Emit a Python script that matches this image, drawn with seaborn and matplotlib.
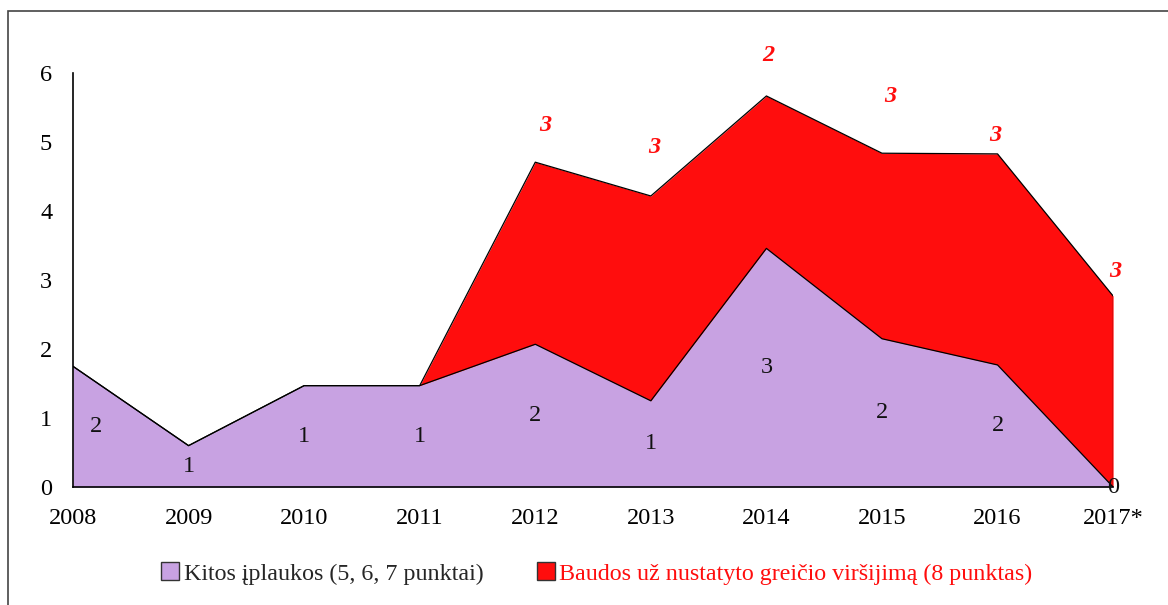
import matplotlib
matplotlib.use("Agg")
import matplotlib.pyplot as plt
from matplotlib.patches import Patch, Rectangle
import seaborn as sns
import pandas as pd

years = ["2008", "2009", "2010", "2011", "2012", "2013", "2014", "2015", "2016", "2017*"]
kitos = [1.75, 0.60, 1.47, 1.47, 2.07, 1.25, 3.46, 2.15, 1.77, 0.0]
baudos = [0.0, 0.0, 0.0, 0.0, 2.64, 2.97, 2.21, 2.69, 3.06, 2.77]
kitos_labels = ["2", "1", "1", "1", "2", "1", "3", "2", "2", "0"]
baudos_labels = ["3", "3", "2", "3", "3", "3"]
baudos_label_years = [4, 5, 6, 7, 8, 9]
# manual nudges of the red labels above the top edge (data units)
baudos_label_dy = [0.53, 0.70, 0.58, 0.82, 0.27, 0.36]
baudos_label_dx = [0.09, 0.03, 0.02, 0.07, -0.02, 0.02]

purple = "#C8A2E2"
red = "#FF0D0D"
fs = 17.5

sns.set_style("white")
plt.rcParams["font.family"] = ["Liberation Serif", "DejaVu Serif"]

df = pd.DataFrame({"x": range(len(years)), "kitos": kitos, "baudos": baudos})
df["top"] = df["kitos"] + df["baudos"]

fig = plt.figure(figsize=(11.68, 6.05), dpi=100)
ax = fig.add_axes([0.0625, 0.195, 0.8905, 0.684])

ax.fill_between(df["x"], 0, df["kitos"], color=purple, lw=0)
ax.fill_between(df["x"], df["kitos"], df["top"], color=red, lw=0)
sns.lineplot(data=df, x="x", y="top", ax=ax, color="black", lw=0.9)
sns.lineplot(data=df, x="x", y="kitos", ax=ax, color="black", lw=0.9)
ax.plot([df["x"].iloc[-1]] * 2, [0, df["top"].iloc[-1]], color="black", lw=0.9)

# purple labels in the middle of the purple area
for i, (v, lab) in enumerate(zip(kitos, kitos_labels)):
    xx = i + (0.2 if i == 0 else 0)
    ax.text(xx, v / 2, lab, ha="center", va="center", fontsize=fs, color="#111111")

for j, i in enumerate(baudos_label_years):
    ax.text(i + baudos_label_dx[j], df["top"].iloc[i] + baudos_label_dy[j], baudos_labels[j],
            ha="center", va="center", fontsize=fs, color=red,
            fontweight="bold", fontstyle="italic")

ax.set_xlim(0, len(years) - 1)
ax.set_ylim(0, 6)
ax.set_xticks(range(len(years)))
ax.set_xticklabels(years)
ax.set_yticks(range(0, 7))
ax.set_xlabel("")
ax.set_ylabel("")
ax.tick_params(axis="both", direction="in", length=6, width=1, labelsize=fs,
               colors="black")
ax.tick_params(axis="x", pad=15)
ax.tick_params(axis="y", pad=15)
for s in ["top", "right"]:
    ax.spines[s].set_visible(False)
for s in ["left", "bottom"]:
    ax.spines[s].set_color("black")
    ax.spines[s].set_linewidth(1.2)

handles = [Patch(facecolor=purple, edgecolor="#333333", lw=1),
           Patch(facecolor=red, edgecolor="#333333", lw=1)]
leg = fig.legend(handles, ["Kitos įplaukos (5, 6, 7 punktai)",
                           "Baudos už nustatyto greičio viršijimą (8 punktas)"],
                 loc="center", bbox_to_anchor=(0.511, 0.052), ncol=2, frameon=False,
                 fontsize=17.3, handlelength=0.75, handleheight=0.75, handletextpad=0.2,
                 columnspacing=2.2)
leg.get_texts()[1].set_color(red)

fig.patches.append(Rectangle((8 / 1168, -0.1), 1.2, (605 - 11) / 605 + 0.1,
                             transform=fig.transFigure, fill=False,
                             edgecolor="#444444", lw=1.2))

fig.savefig("out.png", dpi=100)
